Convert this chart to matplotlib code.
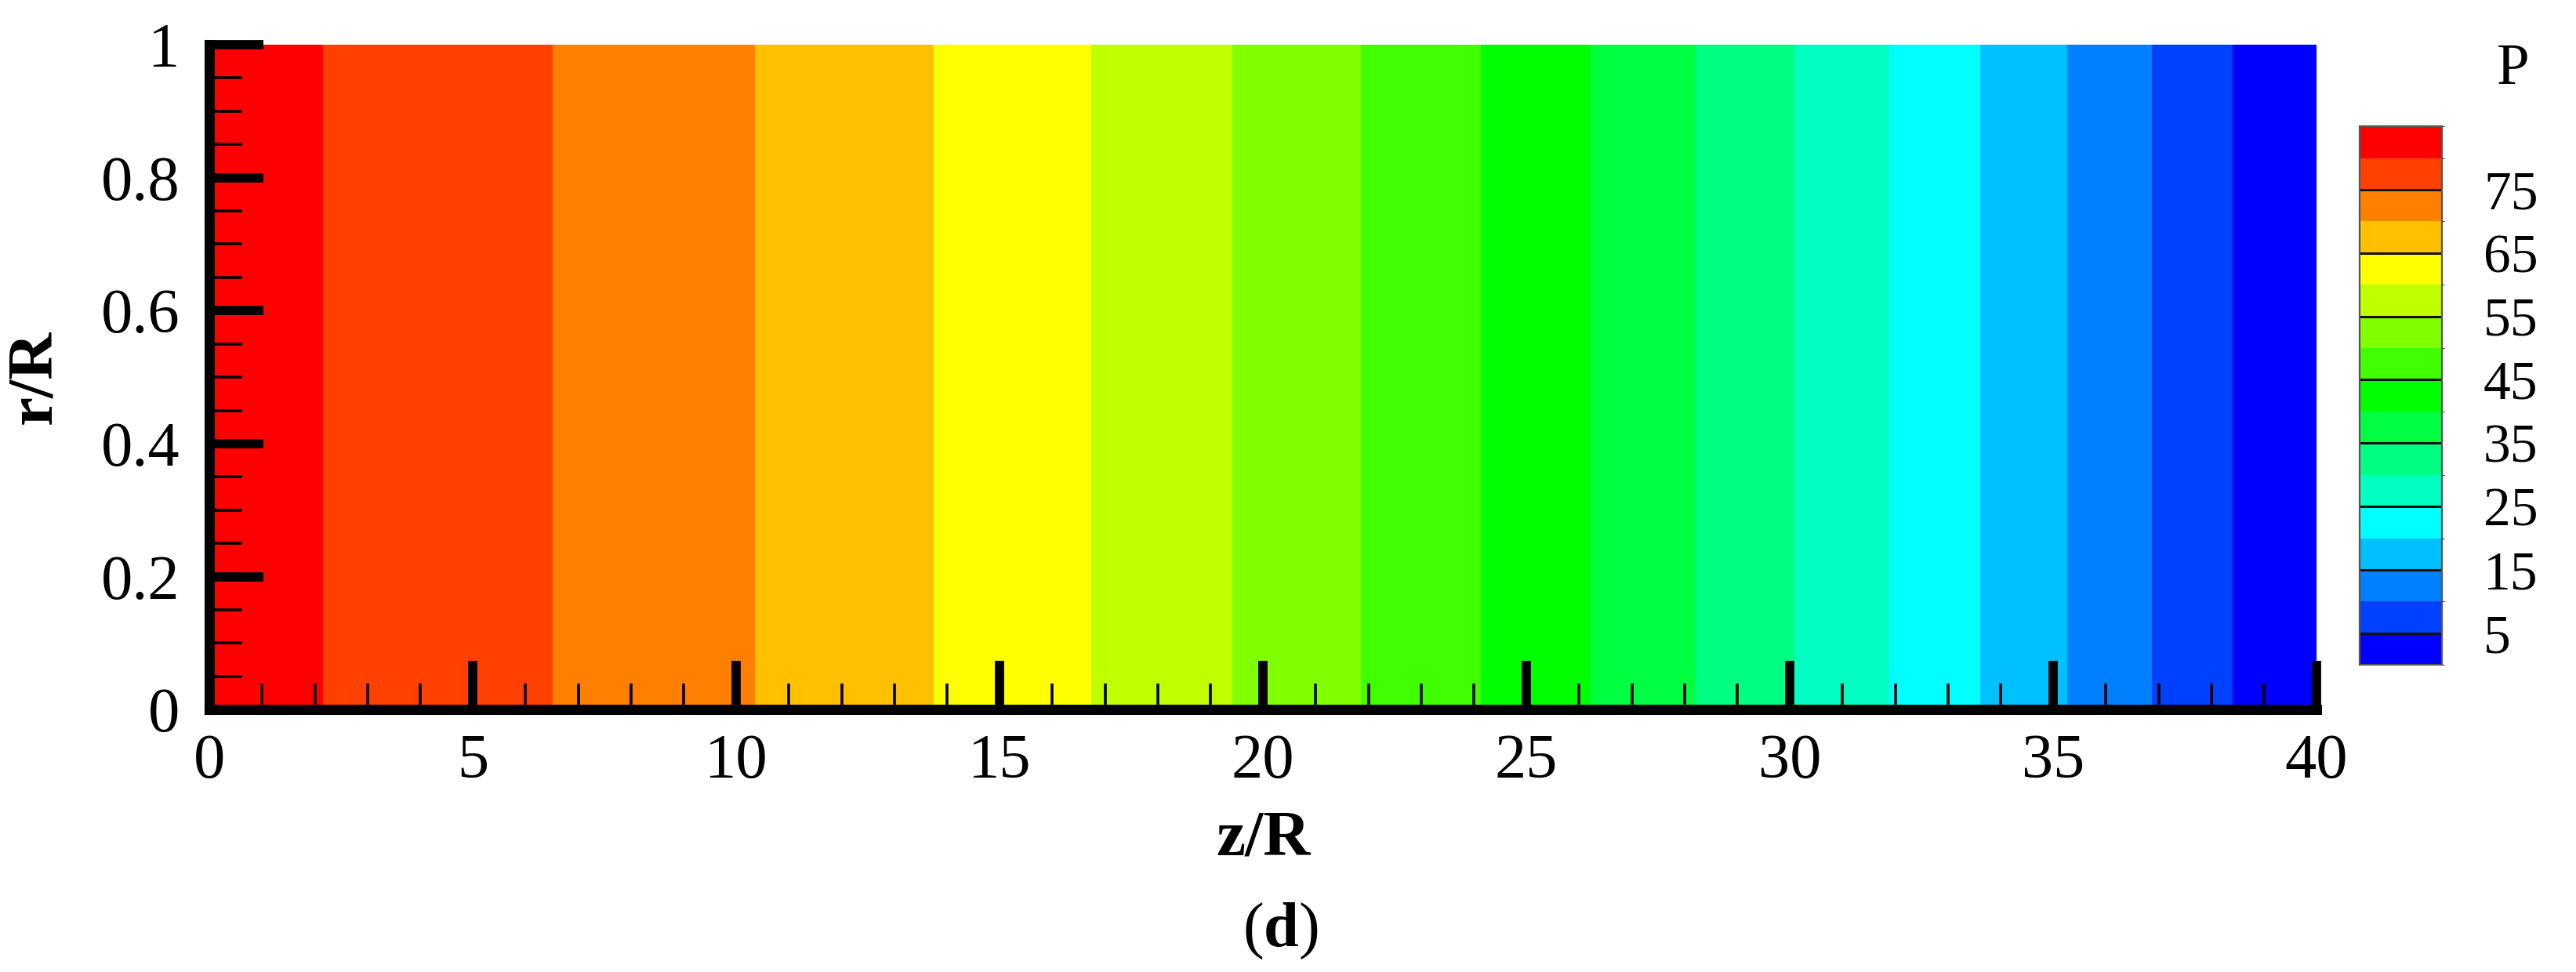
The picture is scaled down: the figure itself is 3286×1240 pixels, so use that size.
import numpy as np
import matplotlib
matplotlib.use('Agg')
import matplotlib.pyplot as plt
from matplotlib.colors import ListedColormap, BoundaryNorm
from matplotlib.ticker import MultipleLocator, FixedLocator, FixedFormatter
import matplotlib.cm as cm

# ---- data ----
# pressure value at the z/R positions where the contour bands change
p_values = [82, 80, 75, 70, 65, 60, 55, 50, 45, 40, 35, 30, 25, 20, 15, 10, 5, 3.5]
z_positions = [0.0, 2.15, 6.52, 10.35, 13.75, 16.74, 19.42, 21.86, 24.13, 26.22,
               28.21, 30.09, 31.89, 33.61, 35.26, 36.88, 38.41, 40.0]
r_rows = [0.0, 1.0]

band_bounds = [0, 5, 10, 15, 20, 25, 30, 35, 40, 45, 50, 55, 60, 65, 70, 75, 80, 85]
band_colors = ['#0000FF', '#0040FF', '#0080FF', '#00C0FF', '#00FFFF', '#00FFC0',
               '#00FF80', '#00FF40', '#00FF00', '#40FF00', '#80FF00', '#C0FF00',
               '#FFFF00', '#FFC000', '#FF8000', '#FF4000', '#FF0000']
cbar_bounds = [2.5, 5, 10, 15, 20, 25, 30, 35, 40, 45, 50, 55, 60, 65, 70, 75, 80, 82.5]
cbar_ticks = [5, 15, 25, 35, 45, 55, 65, 75]
cbar_tick_labels = ['5', '15', '25', '35', '45', '55', '65', '75']

x_ticks = [0, 5, 10, 15, 20, 25, 30, 35, 40]
x_tick_labels = ['0', '5', '10', '15', '20', '25', '30', '35', '40']
y_ticks = [0, 0.2, 0.4, 0.6, 0.8, 1.0]
y_tick_labels = ['0', '0.2', '0.4', '0.6', '0.8', '1']

# ---- style ----
plt.rcParams['font.family'] = ['Liberation Serif', 'DejaVu Serif']
plt.rcParams['mathtext.fontset'] = 'custom'
plt.rcParams['mathtext.rm'] = 'Liberation Serif'
plt.rcParams['mathtext.bf'] = 'Liberation Serif:bold'

fig = plt.figure(figsize=(32.86, 12.40), dpi=100)
ax = fig.add_axes([0.0813, 0.270, 0.818, 0.684])

Z = np.array([p_values for _ in r_rows])
cmap = ListedColormap(band_colors)
norm = BoundaryNorm(band_bounds, cmap.N)
ax.contourf(z_positions, r_rows, Z, levels=band_bounds, colors=band_colors,
            antialiased=False)

ax.set_xlim(0, 40)
ax.set_ylim(0, 1)
for s in ['top', 'right']:
    ax.spines[s].set_visible(False)
for s in ['left', 'bottom']:
    ax.spines[s].set_linewidth(9.4)
    ax.spines[s].set_capstyle('projecting')

ax.xaxis.set_major_locator(FixedLocator(x_ticks))
ax.xaxis.set_major_formatter(FixedFormatter(x_tick_labels))
ax.yaxis.set_major_locator(FixedLocator(y_ticks))
ax.yaxis.set_major_formatter(FixedFormatter(y_tick_labels))
ax.xaxis.set_minor_locator(MultipleLocator(1))
ax.yaxis.set_minor_locator(MultipleLocator(0.05))

ax.tick_params(axis='x', which='major', direction='in', length=45, width=8.5,
               labelsize=58, pad=22)
ax.tick_params(axis='x', which='minor', direction='in', length=24, width=2.6)
ax.tick_params(axis='y', which='major', direction='in', length=50, width=8.5,
               labelsize=58, pad=27)
ax.tick_params(axis='y', which='minor', direction='in', length=30, width=2.6)

# axis labels
fig.text(0.0137, 0.612, 'r/R', fontsize=60, fontweight='bold', rotation=90,
         ha='center', va='center')
fig.text(0.4903, 0.136, 'z/R', fontsize=60, fontweight='bold',
         ha='center', va='center')
fig.text(0.497, 0.042, r'($\mathbf{d}$)', fontsize=58, ha='center', va='center')

# ---- colour bar ----
cax = fig.add_axes([0.916, 0.316, 0.032, 0.554])
sm = cm.ScalarMappable(norm=norm, cmap=cmap)
cb = fig.colorbar(sm, cax=cax, boundaries=cbar_bounds, ticks=cbar_ticks)
cb.ax.set_yticklabels(cbar_tick_labels)
cb.ax.tick_params(length=0, labelsize=50, pad=38)
cb.outline.set_linewidth(1.6)
cb.outline.set_edgecolor('#555555')
cb.ax.hlines(cbar_ticks, 0, 1, colors='#111111', linewidth=2.2)
fig.text(0.9757, 0.928, 'P', fontsize=54, ha='center', va='center')

fig.savefig('out.png', dpi=100)
